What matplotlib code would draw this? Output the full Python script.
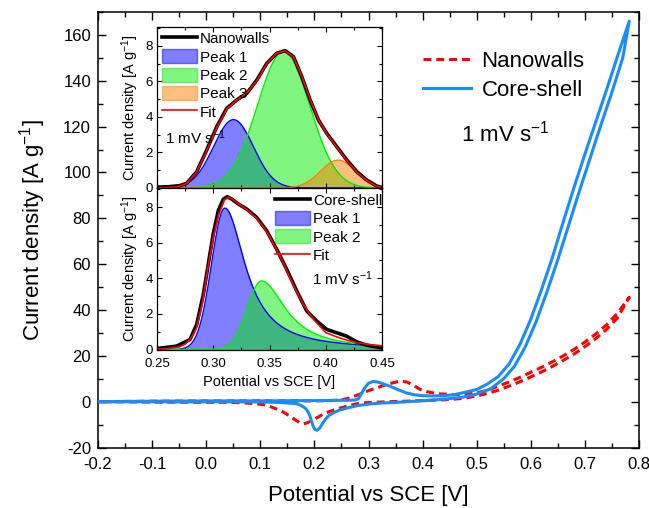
import numpy as np
import matplotlib
matplotlib.use("Agg")
import matplotlib.pyplot as plt
import matplotlib.patches as mpatches
from matplotlib.lines import Line2D
from matplotlib.ticker import MultipleLocator, FormatStrFormatter

plt.rcParams['font.family'] = ['Liberation Sans', 'DejaVu Sans']
plt.rcParams['mathtext.default'] = 'regular'
plt.rcParams['axes.unicode_minus'] = False

BLUE = '#1a8cff'

# --- CV at 1 mV/s: Core-shell (forward / reverse sweep) ---
cs_fwd_v = [-0.20, -0.10, 0.00, 0.10, 0.20, 0.26, 0.275, 0.281, 0.287, 0.293, 0.2997,
            0.309, 0.318, 0.328, 0.34, 0.355, 0.37, 0.385, 0.40, 0.42, 0.44, 0.46,
            0.48, 0.50, 0.52, 0.54, 0.56, 0.58, 0.60, 0.62, 0.64, 0.66, 0.68, 0.70,
            0.72, 0.74, 0.76, 0.782]
cs_fwd_j = [0.0, 0.2, 0.3, 0.35, 0.45, 0.6, 0.7, 1.2, 3.5, 6.0, 8.0,
            8.85, 8.5, 7.7, 6.7, 5.2, 3.8, 3.0, 2.6, 2.5, 2.6, 3.1,
            4.2, 5.3, 7.7, 11.0, 16.5, 25.0, 36.0, 49.0, 63.0, 78.5, 93.5, 108.0,
            122.0, 136.0, 150.5, 166.0]
cs_rev_v = [0.782, 0.77, 0.75, 0.73, 0.71, 0.69, 0.67, 0.65, 0.63, 0.61, 0.59, 0.57,
            0.55, 0.525, 0.50, 0.475, 0.445, 0.414, 0.38, 0.352, 0.325, 0.303, 0.28,
            0.26, 0.245, 0.235, 0.227, 0.22, 0.215, 0.21, 0.205, 0.201, 0.198, 0.195,
            0.192, 0.188, 0.183, 0.175, 0.167, 0.14, 0.106, 0.044, -0.05, -0.20]
cs_rev_j = [166.0, 150.0, 135.0, 121.0, 106.5, 92.0, 77.0, 62.0, 48.0, 35.0, 24.0, 15.5,
            10.0, 5.5, 3.3, 2.0, 1.2, 0.6, 0.1, -0.3, -0.6, -1.0, -1.7,
            -2.8, -3.8, -4.9, -6.0, -7.8, -9.5, -11.5, -12.5, -12.2, -10.8, -8.8,
            -6.4, -4.3, -2.8, -1.6, -0.9, -0.4, -0.15, -0.05, -0.1, 0.0]

# --- CV at 1 mV/s: Nanowalls ---
nw_fwd_v = [-0.20, -0.10, 0.00, 0.10, 0.20, 0.23, 0.25, 0.265, 0.28, 0.30, 0.32, 0.34,
            0.355, 0.362, 0.372, 0.385, 0.395, 0.41, 0.43, 0.46, 0.48, 0.50, 0.52,
            0.54, 0.56, 0.58, 0.60, 0.62, 0.64, 0.66, 0.68, 0.70, 0.72, 0.74, 0.76, 0.782]
nw_fwd_j = [0.0, 0.2, 0.3, 0.35, 0.35, 0.45, 0.8, 1.6, 2.9, 4.8, 6.4, 7.9,
            8.8, 8.9, 8.5, 6.9, 5.4, 4.2, 3.4, 3.1, 3.3, 3.8, 5.0,
            6.8, 8.6, 10.6, 12.8, 15.0, 17.4, 20.0, 22.8, 26.0, 29.5, 33.5, 38.5, 45.5]
nw_rev_v = [0.782, 0.76, 0.74, 0.72, 0.70, 0.68, 0.66, 0.64, 0.62, 0.60, 0.58, 0.56,
            0.54, 0.52, 0.50, 0.475, 0.44, 0.414, 0.38, 0.352, 0.309, 0.284, 0.26,
            0.245, 0.229, 0.215, 0.204, 0.195, 0.186, 0.18, 0.173, 0.165, 0.155, 0.143,
            0.13, 0.118, 0.106, 0.09, 0.075, 0.044, 0.0, -0.10, -0.20]
nw_rev_j = [45.5, 36.5, 31.5, 27.5, 24.0, 20.8, 18.0, 15.4, 13.0, 10.8, 8.7, 6.8,
            5.0, 3.6, 2.5, 1.4, 0.8, 0.6, 0.3, 0.1, -0.3, -0.6, -2.0,
            -3.0, -4.2, -5.6, -7.1, -8.3, -9.3, -9.7, -9.2, -8.0, -6.4, -4.6,
            -3.2, -2.1, -1.3, -0.9, -0.6, -0.3, -0.3, -0.2, 0.0]

# --- anodic peak, Nanowalls: measured + fit + Gaussian components ---
nw_peak_v = [0.25, 0.26, 0.27, 0.2764, 0.2853, 0.2942, 0.3031, 0.312, 0.3209, 0.3298,
             0.3387, 0.3476, 0.3564, 0.3639, 0.3713, 0.3787, 0.3861, 0.3935, 0.4009,
             0.4098, 0.4187, 0.4276, 0.4364, 0.4453, 0.45]
nw_peak_j = [0.05, 0.07, 0.13, 0.26, 0.92, 2.14, 3.45, 4.49, 4.96, 5.33,
             6.08, 7.02, 7.59, 7.74, 7.4, 6.27, 4.96, 3.83, 3.08,
             2.33, 1.58, 0.92, 0.45, 0.11, 0.03]
nw_fit_j = [0.0, 0.03, 0.1, 0.25, 0.9, 2.1, 3.4, 4.45, 4.95, 5.35,
            6.05, 7.0, 7.6, 7.72, 7.38, 6.3, 5.0, 3.85, 3.05,
            2.3, 1.55, 0.9, 0.42, 0.1, 0.02]
nw_centers = [0.318, 0.3625, 0.411]
nw_heights = [3.85, 7.68, 1.57]
nw_widths = [0.0177, 0.0232, 0.0155]

# --- anodic peak, Core-shell ---
cs_peak_v = [0.251, 0.2675, 0.2793, 0.2853, 0.2912, 0.2956, 0.30, 0.3045, 0.309, 0.3125,
             0.3164, 0.3223, 0.3297, 0.3386, 0.3475, 0.3564, 0.3653, 0.3742, 0.3831,
             0.392, 0.4008, 0.4097, 0.4186, 0.4275, 0.4364, 0.4497]
cs_peak_j = [0.06, 0.19, 0.56, 1.41, 3.1, 4.8, 6.5, 7.8, 8.45, 8.58,
             8.45, 8.17, 7.89, 7.42, 6.67, 5.63, 4.5, 3.29, 2.16,
             1.6, 1.13, 0.94, 0.75, 0.43, 0.24, 0.09]
cs_fit_v = [0.25, 0.26, 0.27, 0.275, 0.28, 0.285, 0.29, 0.295, 0.30, 0.305, 0.31,
            0.3135, 0.317, 0.322, 0.33, 0.338, 0.345, 0.35, 0.356, 0.362, 0.368,
            0.374, 0.38, 0.386, 0.392, 0.40, 0.41, 0.42, 0.43, 0.44, 0.45]
cs_fit_j = [0.03, 0.06, 0.15, 0.3, 0.6, 1.2, 2.5, 4.5, 6.3, 7.6, 8.4,
            8.55, 8.45, 8.2, 7.85, 7.4, 6.85, 6.35, 5.65, 4.9, 4.05,
            3.25, 2.55, 1.95, 1.5, 0.95, 0.7, 0.5, 0.36, 0.27, 0.2]
cs_centers = [0.3103, 0.343]
cs_heights = [7.94, 3.85]
cs_left_w = [0.0118, 0.0127]     # gaussian rise
cs_right_w = [0.0222, 0.026]     # lorentzian tail

PEAK_COLORS = ['blue', '#00ee00', '#ff8000']


def gauss(x, c, h, w):
    return h * np.exp(-0.5 * ((x - c) / w) ** 2)


def split_peak(x, c, h, wl, wr):
    left = h * np.exp(-0.5 * ((x - c) / wl) ** 2)
    right = h / (1 + ((x - c) / wr) ** 2)
    return np.where(x < c, left, right)


fig = plt.figure(figsize=(6.49, 5.08), dpi=100)
ax = fig.add_axes([98 / 649, 60.5 / 508, 541 / 649, 435.5 / 508])

ax.plot(nw_fwd_v + nw_rev_v, nw_fwd_j + nw_rev_j, color='red', lw=2.2,
        dashes=(2.6, 1.6), zorder=2)
ax.plot(cs_fwd_v + cs_rev_v, cs_fwd_j + cs_rev_j, color=BLUE, lw=2.2, zorder=3)

ax.set_xlim(-0.2, 0.8)
ax.set_ylim(-20, 170)
ax.xaxis.set_major_locator(MultipleLocator(0.1))
ax.xaxis.set_minor_locator(MultipleLocator(0.05))
ax.yaxis.set_major_locator(MultipleLocator(20))
ax.yaxis.set_minor_locator(MultipleLocator(10))
ax.xaxis.set_major_formatter(FormatStrFormatter('%.1f'))
ax.tick_params(which='both', direction='in', top=True, right=True, width=1.0,
               labelsize=12)
ax.tick_params(which='major', length=6)
ax.tick_params(which='minor', length=3.5)
ax.tick_params(axis='x', pad=7)
ax.tick_params(axis='y', pad=5)
for s in ax.spines.values():
    s.set_linewidth(1.1)
ax.set_xlabel('Potential vs SCE [V]', fontsize=16, labelpad=9)
ax.set_ylabel('Current density [A g$^{-1}$]', fontsize=16, labelpad=11)

handles = [Line2D([], [], color='red', lw=2.2, dashes=(2.6, 1.6)),
           Line2D([], [], color=BLUE, lw=2.2)]
ax.legend(handles, ['Nanowalls', 'Core-shell'], loc='upper left',
          bbox_to_anchor=(0.6, 0.91), frameon=False, fontsize=16,
          handlelength=2.2, handletextpad=0.45, labelspacing=0.35,
          borderpad=0, borderaxespad=0)
ax.text(0.752, 0.72, '1 mV s$^{-1}$', transform=ax.transAxes, fontsize=16,
        ha='center', va='center')

# insets with peak deconvolution
ax_top = fig.add_axes([157 / 649, 320 / 508, 225 / 649, 161 / 508])
ax_bot = fig.add_axes([157 / 649, 158.5 / 508, 225 / 649, 161.5 / 508])

grid = np.linspace(0.25, 0.45, 401)

for i, (c, h, w) in enumerate(zip(nw_centers, nw_heights, nw_widths)):
    prof = gauss(grid, c, h, w)
    ax_top.fill_between(grid, 0, prof, color=PEAK_COLORS[i], alpha=0.5, lw=0)
    ax_top.plot(grid, prof, color=PEAK_COLORS[i], lw=1.0)
ax_top.plot(nw_peak_v, nw_peak_j, color='black', lw=2.6)
ax_top.plot(nw_peak_v, nw_fit_j, color='red', lw=1.2)

for i, (c, h, wl, wr) in enumerate(zip(cs_centers, cs_heights, cs_left_w, cs_right_w)):
    prof = split_peak(grid, c, h, wl, wr)
    ax_bot.fill_between(grid, 0, prof, color=PEAK_COLORS[i], alpha=0.5, lw=0)
    ax_bot.plot(grid, prof, color=PEAK_COLORS[i], lw=1.0)
ax_bot.plot(cs_peak_v, cs_peak_j, color='black', lw=2.6)
ax_bot.plot(cs_fit_v, cs_fit_j, color='red', lw=1.2)

for a in (ax_top, ax_bot):
    a.set_xlim(0.25, 0.45)
    a.set_ylim(0, 9.07)
    a.xaxis.set_major_locator(MultipleLocator(0.05))
    a.xaxis.set_minor_locator(MultipleLocator(0.025))
    a.yaxis.set_major_locator(MultipleLocator(2))
    a.yaxis.set_minor_locator(MultipleLocator(1))
    a.xaxis.set_major_formatter(FormatStrFormatter('%.2f'))
    a.tick_params(which='both', direction='in', top=True, right=True,
                  labelsize=9.5, width=0.8, pad=3)
    a.tick_params(which='major', length=3.5)
    a.tick_params(which='minor', length=2)
    for s in a.spines.values():
        s.set_linewidth(0.9)
    a.set_ylabel('Current density [A g$^{-1}$]', fontsize=10.5, labelpad=3)

ax_top.tick_params(labelbottom=False)
ax_bot.tick_params(axis='x', pad=6)
ax_bot.set_xlabel('Potential vs SCE [V]', fontsize=10.5, labelpad=4)

leg_kw = dict(frameon=False, fontsize=11, handlelength=2.3, handleheight=1.05,
              handletextpad=0.2, labelspacing=0.2, borderpad=0, borderaxespad=0)

top_handles = [Line2D([], [], color='black', lw=2.6),
               mpatches.Patch(color='blue', alpha=0.5),
               mpatches.Patch(color='#00ee00', alpha=0.5),
               mpatches.Patch(color='#ff8000', alpha=0.5),
               Line2D([], [], color='red', lw=1.2)]
ax_top.legend(top_handles, ['Nanowalls', 'Peak 1', 'Peak 2', 'Peak 3', 'Fit'],
              loc='upper left', bbox_to_anchor=(0.02, 0.976), **leg_kw)
ax_top.text(0.036, 0.31, '1 mV s$^{-1}$', transform=ax_top.transAxes,
            fontsize=11, va='center')

bot_handles = [Line2D([], [], color='black', lw=2.6),
               mpatches.Patch(color='blue', alpha=0.5),
               mpatches.Patch(color='#00ee00', alpha=0.5),
               Line2D([], [], color='red', lw=1.2)]
ax_bot.legend(bot_handles, ['Core-shell', 'Peak 1', 'Peak 2', 'Fit'],
              loc='upper right', bbox_to_anchor=(1.0, 0.972), **leg_kw)
ax_bot.text(0.687, 0.44, '1 mV s$^{-1}$', transform=ax_bot.transAxes,
            fontsize=11, va='center')

fig.savefig('out.png', dpi=100)
